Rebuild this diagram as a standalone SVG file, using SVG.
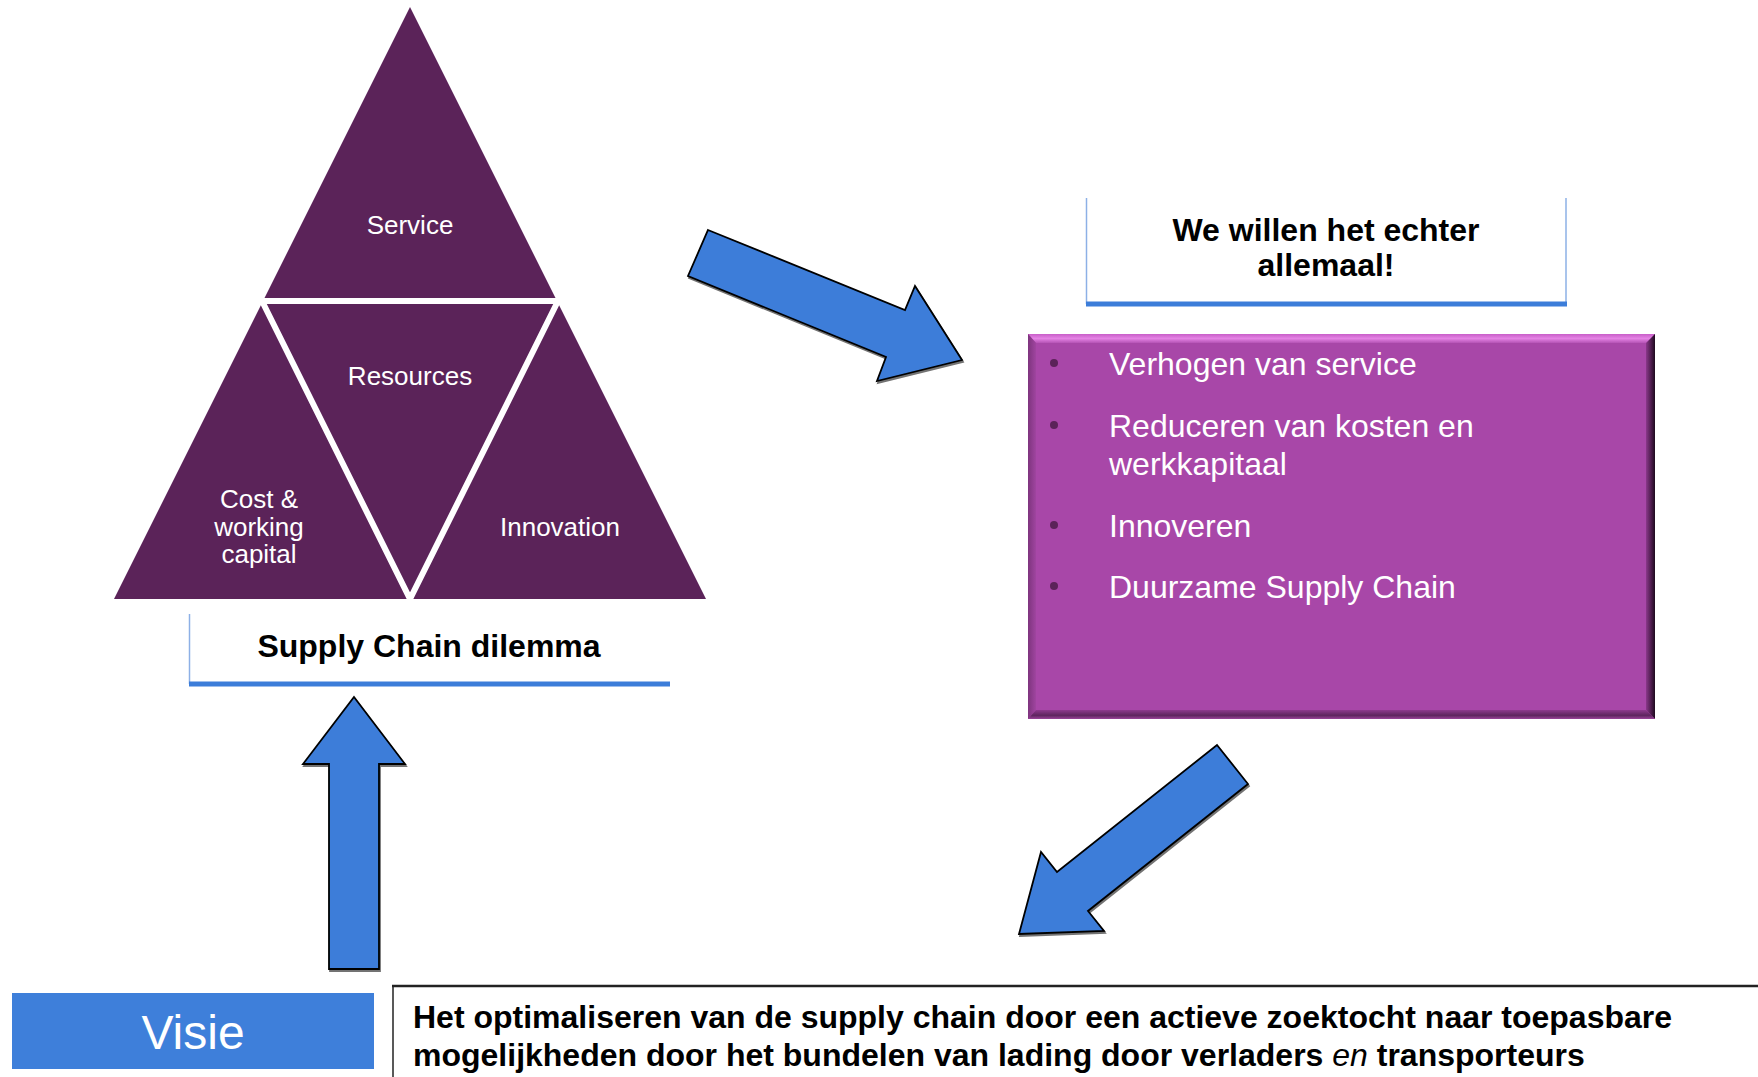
<svg xmlns="http://www.w3.org/2000/svg" width="1758" height="1077" viewBox="0 0 1758 1077">
  <defs>
    <style>
      .tri { fill: #5B2359; }
      .gap { stroke: #ffffff; stroke-width: 6; fill: none; stroke-linecap: butt; }
      .tlabel { font-family: "Liberation Sans", Arial, sans-serif; font-size: 26px; fill: #ffffff; text-anchor: middle; }
      .title { font-family: "Liberation Sans", Arial, sans-serif; font-size: 32px; font-weight: bold; fill: #000000; text-anchor: middle; }
      .bullet { font-family: "Liberation Sans", Arial, sans-serif; font-size: 32px; fill: #ffffff; }
      .dot { fill: #5B2359; }
      .stmt { font-family: "Liberation Sans", Arial, sans-serif; font-size: 32px; font-weight: bold; fill: #000000; }
      .arrow { fill: #3C7DD9; stroke: #000000; stroke-width: 1.8; stroke-linejoin: miter; filter: url(#shadow); }
      .uline { stroke: #3C7DD9; stroke-width: 5; }
      .thin { stroke: #8DB0E6; stroke-width: 1.5; }
    </style>
    <filter id="shadow" x="-10%" y="-10%" width="130%" height="130%">
      <feDropShadow dx="1" dy="2" stdDeviation="0.6" flood-color="#000000" flood-opacity="0.55"/>
    </filter>
    <linearGradient id="topBevel" x1="0" y1="0" x2="0" y2="1">
      <stop offset="0" stop-color="#C85EC8"/>
      <stop offset="0.5" stop-color="#E483E4"/>
      <stop offset="1" stop-color="#B553B5"/>
    </linearGradient>
    <linearGradient id="rightBevel" x1="0" y1="0" x2="1" y2="0">
      <stop offset="0" stop-color="#8A388A"/>
      <stop offset="0.6" stop-color="#4A1B4A"/>
      <stop offset="1" stop-color="#1E0A1E"/>
    </linearGradient>
    <linearGradient id="bottomBevel" x1="0" y1="0" x2="0" y2="1">
      <stop offset="0" stop-color="#8E3A8E"/>
      <stop offset="0.6" stop-color="#5E255E"/>
      <stop offset="1" stop-color="#9A449A"/>
    </linearGradient>
    <linearGradient id="leftBevel" x1="0" y1="0" x2="1" y2="0">
      <stop offset="0" stop-color="#7E347E"/>
      <stop offset="1" stop-color="#A045A0"/>
    </linearGradient>
  </defs>

  <rect x="0" y="0" width="1758" height="1077" fill="#ffffff"/>

  <!-- Pyramid node -->
  <g id="node-pyramid">
    <polygon class="tri" points="410,7 706,599 114,599"/>
    <polyline class="gap" points="262,301 558,301"/>
    <polyline class="gap" points="262,301 410,599 558,301"/>
    <text class="tlabel" x="410" y="234">Service</text>
    <text class="tlabel" x="410" y="385">Resources</text>
    <text class="tlabel" x="259" y="508">Cost &amp;</text>
    <text class="tlabel" x="259" y="536">working</text>
    <text class="tlabel" x="259" y="563">capital</text>
    <text class="tlabel" x="560" y="536">Innovation</text>
  </g>

  <!-- Supply Chain dilemma label -->
  <g id="node-dilemma">
    <line class="thin" x1="189.5" y1="614" x2="189.5" y2="684"/>
    <line class="uline" x1="189" y1="684" x2="670" y2="684"/>
    <text class="title" x="429" y="657">Supply Chain dilemma</text>
  </g>

  <!-- We willen het echter allemaal -->
  <g id="node-allemaal">
    <line class="thin" x1="1086.5" y1="198" x2="1086.5" y2="304"/>
    <line class="thin" x1="1566" y1="198" x2="1566" y2="304"/>
    <line class="uline" x1="1086" y1="304" x2="1567" y2="304"/>
    <text class="title" x="1326" y="241">We willen het echter</text>
    <text class="title" x="1326" y="276">allemaal!</text>
  </g>

  <!-- Purple bullet box -->
  <g id="node-goals">
    <rect x="1028" y="334" width="627" height="385" fill="#A847A8"/>
    <polygon points="1028,334 1655,334 1647,343 1036,343" fill="url(#topBevel)"/>
    <polygon points="1028,334 1036,343 1036,710 1028,719" fill="url(#leftBevel)"/>
    <polygon points="1655,334 1655,719 1646,710 1646,343" fill="url(#rightBevel)"/>
    <polygon points="1028,719 1655,719 1646,710 1036,710" fill="url(#bottomBevel)"/>
    <circle class="dot" cx="1054" cy="363" r="4"/>
    <circle class="dot" cx="1054" cy="425" r="4"/>
    <circle class="dot" cx="1054" cy="525" r="4"/>
    <circle class="dot" cx="1054" cy="586" r="4"/>
    <text class="bullet" x="1109" y="375">Verhogen van service</text>
    <text class="bullet" x="1109" y="437">Reduceren van kosten en</text>
    <text class="bullet" x="1109" y="475">werkkapitaal</text>
    <text class="bullet" x="1109" y="537">Innoveren</text>
    <text class="bullet" x="1109" y="598">Duurzame Supply Chain</text>
  </g>

  <!-- Visie -->
  <g id="node-visie">
    <rect x="12" y="993" width="362" height="76" fill="#3E7FDA"/>
    <text x="193" y="1049" font-family="Liberation Sans, Arial, sans-serif" font-size="48" fill="#ffffff" text-anchor="middle">Visie</text>
  </g>

  <!-- Statement -->
  <g id="node-statement">
    <line x1="392" y1="986" x2="1758" y2="986" stroke="#222222" stroke-width="2.5"/>
    <line x1="393" y1="986" x2="393" y2="1077" stroke="#222222" stroke-width="1.5"/>
    <text class="stmt" x="413" y="1028">Het optimaliseren van de supply chain door een actieve zoektocht naar toepasbare</text>
    <text class="stmt" x="413" y="1066">mogelijkheden door het bundelen van lading door verladers <tspan font-style="italic" font-weight="normal">en</tspan> transporteurs</text>
  </g>

  <!-- Connectors -->
  <g id="connectors">
    <polygon class="arrow" points="708,230 905,310 915,286 962,360 877,381 886,357 688,276"/>
    <polygon class="arrow" points="1217,745 1248,784 1088,911 1104,931 1019,934 1041,852 1057,872"/>
    <polygon class="arrow" points="354,697 405,764 379,764 379,969 329,969 329,764 303,764"/>
  </g>
</svg>
